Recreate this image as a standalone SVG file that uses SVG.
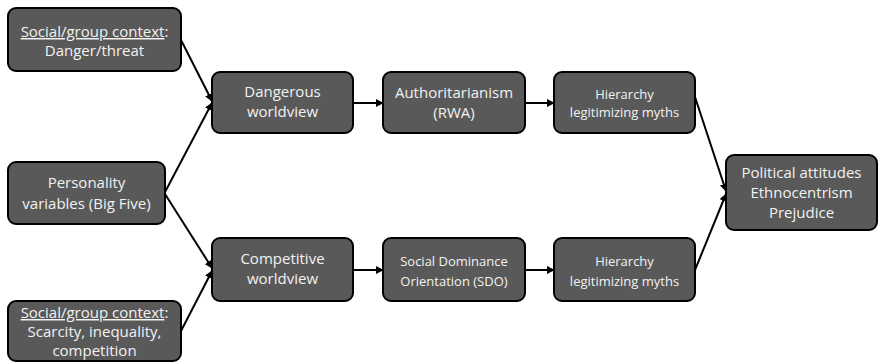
<svg xmlns="http://www.w3.org/2000/svg" width="879" height="363" viewBox="0 0 879 363">
<style>
.box{fill:#595959;stroke:#000;stroke-width:2}
text{font-family:"Open Sans","Liberation Sans",sans-serif;fill:#f2f2f2;text-anchor:middle}
.t14{font-size:15px}
.t12{font-size:13px}
.t15{font-size:15px}
.u{text-decoration:underline}
.con{stroke:#000;stroke-width:2;fill:none;marker-end:url(#ah)}
</style>
<defs>
<marker id="ah" viewBox="0 0 10 10" refX="9" refY="5" markerWidth="4" markerHeight="4" orient="auto" markerUnits="strokeWidth">
<path d="M0,0 L10,5 L0,10 z" fill="#000"/>
</marker>
</defs>
<g id="connectors">
<line class="con" x1="181" y1="40" x2="212" y2="101"/>
<line class="con" x1="165" y1="192" x2="212" y2="103"/>
<line class="con" x1="165" y1="194" x2="212" y2="268"/>
<line class="con" x1="181" y1="331" x2="212" y2="271"/>
<line class="con" x1="353" y1="103" x2="383" y2="103"/>
<line class="con" x1="525" y1="103" x2="554" y2="103"/>
<line class="con" x1="353" y1="270" x2="383" y2="270"/>
<line class="con" x1="525" y1="270" x2="554" y2="270"/>
<line class="con" x1="695" y1="97" x2="726" y2="191"/>
<line class="con" x1="695" y1="270" x2="726" y2="194"/>
</g>
<g id="ctx-danger">
<rect class="box" x="8" y="8" width="173" height="63" rx="8"/>
<text class="t14" x="94.5" y="37"><tspan class="u">Social/group context</tspan>:</text>
<text class="t14" x="94.5" y="56">Danger/threat</text>
</g>
<g id="personality">
<rect class="box" x="8" y="162" width="157" height="62" rx="8"/>
<text class="t14" x="86.5" y="188">Personality</text>
<text class="t14" x="86.5" y="209">variables (Big Five)</text>
</g>
<g id="ctx-scarcity">
<rect class="box" x="8" y="301" width="173" height="60" rx="8"/>
<text class="t14" x="94.5" y="318"><tspan class="u">Social/group context</tspan>:</text>
<text class="t14" x="94.5" y="337">Scarcity, inequality,</text>
<text class="t14" x="94.5" y="356">competition</text>
</g>
<g id="dangerous">
<rect class="box" x="212" y="72" width="141" height="61" rx="8"/>
<text class="t14" x="282.5" y="97">Dangerous</text>
<text class="t14" x="282.5" y="117">worldview</text>
</g>
<g id="competitive">
<rect class="box" x="212" y="238" width="141" height="63" rx="8"/>
<text class="t14" x="282.5" y="264">Competitive</text>
<text class="t14" x="282.5" y="284">worldview</text>
</g>
<g id="rwa">
<rect class="box" x="383" y="72" width="142" height="61" rx="8"/>
<text class="t14" x="454" y="98">Authoritarianism</text>
<text class="t14" x="454" y="118">(RWA)</text>
</g>
<g id="sdo">
<rect class="box" x="383" y="238" width="142" height="63" rx="8"/>
<text class="t12" x="454" y="266">Social Dominance</text>
<text class="t12" x="454" y="286">Orientation (SDO)</text>
</g>
<g id="hlm-top">
<rect class="box" x="554" y="72" width="141" height="61" rx="8"/>
<text class="t12" x="624.5" y="99">Hierarchy</text>
<text class="t12" x="624.5" y="117">legitimizing myths</text>
</g>
<g id="hlm-bottom">
<rect class="box" x="554" y="238" width="141" height="63" rx="8"/>
<text class="t12" x="624.5" y="266">Hierarchy</text>
<text class="t12" x="624.5" y="286">legitimizing myths</text>
</g>
<g id="political">
<rect class="box" x="726" y="155" width="151" height="75" rx="8"/>
<text class="t15" x="801.5" y="178">Political attitudes</text>
<text class="t15" x="801.5" y="198">Ethnocentrism</text>
<text class="t15" x="801.5" y="218">Prejudice</text>
</g>
</svg>
